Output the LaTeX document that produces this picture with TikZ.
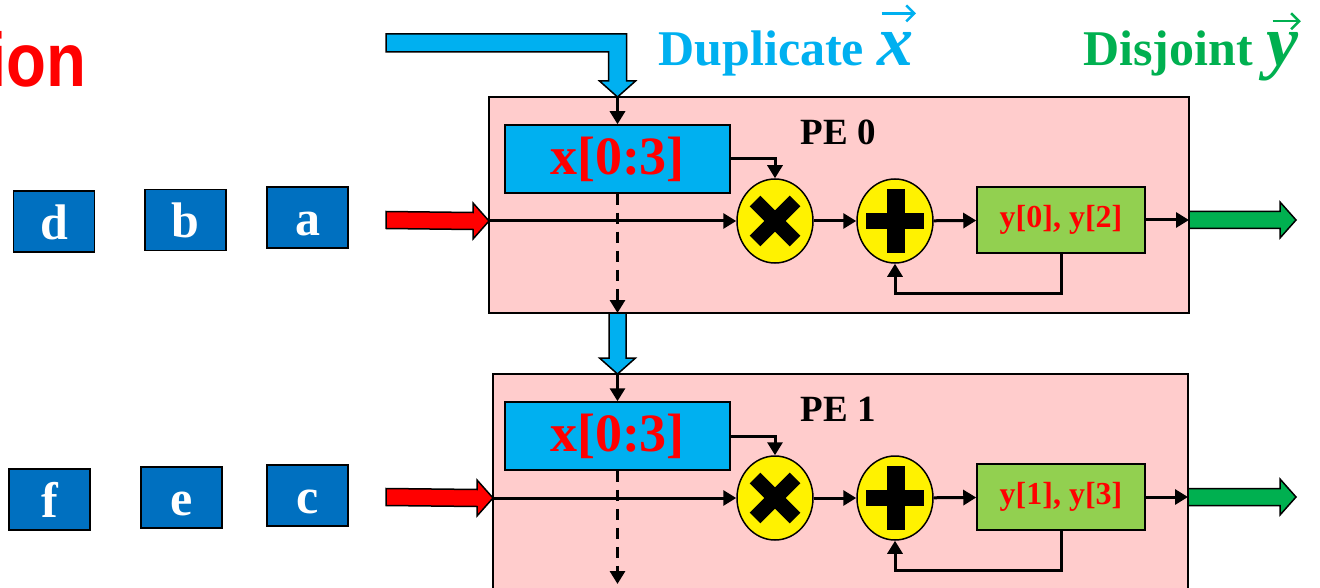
\documentclass[tikz,border=0pt]{standalone}
\usepackage{fontspec}
\setmainfont{Liberation Serif}
\newfontfamily\arialfont{Liberation Sans}
\usetikzlibrary{arrows.meta,calc,shapes.geometric}
\definecolor{tokblue}{RGB}{0,112,192}
\definecolor{xblue}{RGB}{0,176,240}
\definecolor{pepink}{RGB}{255,204,204}
\definecolor{ygreen}{RGB}{146,208,80}
\definecolor{outgreen}{RGB}{0,176,80}
\definecolor{hotred}{RGB}{255,0,0}
\tikzset{
  >={Triangle[length=13pt,width=15pt]},
  tok/.style={draw=black,fill=tokblue,line width=1.5pt,minimum width=81,minimum height=61,
    inner sep=0pt,text=white,text height=36pt,text depth=0pt,font=\fontsize{50}{50}\selectfont\bfseries},
  pe/.style={draw=black,fill=pepink,line width=1.5pt,inner sep=0pt,outer sep=0pt},
  pelabel/.style={font=\fontsize{37}{37}\selectfont\bfseries},
  xbuf/.style={draw=black,fill=xblue,line width=1.5pt,minimum width=225,minimum height=68,
    inner sep=0pt,text=hotred,font=\fontsize{54}{54}\selectfont\bfseries},
  ybuf/.style={draw=black,fill=ygreen,line width=1.5pt,minimum width=168,minimum height=66,
    inner sep=0pt,text=hotred,font=\fontsize{32}{32}\selectfont\bfseries},
  op/.style={ellipse,draw=black,fill=yellow,line width=1.5pt,minimum width=76,minimum height=84,inner sep=0pt},
  wire/.style={->,line width=3pt},
  fat/.style={draw=black,line width=1.5pt,fill=#1},
  title/.style={anchor=base west,font=\fontsize{50}{50}\selectfont\bfseries,text=#1},
  vecletter/.style={anchor=base west,inner sep=0pt,font=\fontsize{72}{72}\selectfont\bfseries\itshape,text=#1},
  vecarrow/.style={draw=#1,line width=2.5pt,-{Straight Barb[length=8pt,width=16pt]}},
}
% fat block arrows: colour, from, to
\newcommand\hfat[3]{\draw[fat=#1] ($(#2)+(0,-8.5)$) -- ($(#3)+(-16,-8.5)$) -- ($(#3)+(-16,-18)$)
  -- (#3) -- ($(#3)+(-16,18)$) -- ($(#3)+(-16,8.5)$) -- ($(#2)+(0,8.5)$) -- cycle;}
\newcommand\vfat[3]{\draw[fat=#1] ($(#2)+(-8.5,0)$) -- ($(#3)+(-8.5,-16)$) -- ($(#3)+(-18,-16)$)
  -- (#3) -- ($(#3)+(18,-16)$) -- ($(#3)+(8.5,-16)$) -- ($(#2)+(8.5,0)$) -- cycle;}

\begin{document}
\begin{tikzpicture}[x=1pt,y=-1pt]
  \useasboundingbox (0,0) rectangle (1320,588);
  \clip (0,0) rectangle (1320,588);

  \node[anchor=base east,inner sep=0pt,xscale=0.86,transform shape,text=hotred,
    font=\fontsize{76}{76}\selectfont\arialfont\bfseries] (head) at (87,87) {ion};

  % titles with vector letters
  \node[title=xblue] (dup) at (655,66) {Duplicate};
  \node[vecletter=xblue] (vx) at ($(dup.base east)+(10,0)$) {x};
  \draw[vecarrow=xblue] ($(vx.west)+(4,-36)$) -- ($(vx.east)+(2,-36)$);
  \node[title=outgreen] (dis) at (1080,66) {Disjoint};
  \node[vecletter=outgreen] (vy) at ($(dis.base east)+(10,0)$) {y};
  \draw[vecarrow=outgreen] ($(vy.west)+(6,-36)$) -- ($(vy.east)+(2,-36)$);

  % input tokens
  \foreach \t/\x/\y [count=\i] in {d/54/221.5, b/185.5/220, a/307.5/217.5,
    f/49.5/499.5, e/181.5/497.5, c/307.5/495.5}
    \node[tok] (tok\i) at (\x,\y) {\t};

  % processing elements
  \foreach \r/\px/\pw/\yo/\de/\ys in {0/489/700/0/0/{y[0], y[2]}, 1/493/695/277/-6/{y[1], y[3]}}
  {
    \node[pe,minimum width=\pw,minimum height=216,anchor=north west] (pe\r) at (\px,97+\yo) {};
    \node[pelabel] (lab\r) at (838,132+\yo) {PE \r};
    \node[xbuf] (xb\r) at (617.5,159+\yo) {x[0:3]};
    \node[op] (mul\r) at (775,221+\yo) {};
    \node[op] (add\r) at (895,221+\yo) {};
    \node[ybuf] (yb\r) at (1061,220+\yo) {\ys};
    \draw[line width=15pt] ($(mul\r)+(-20,-20)$) -- ($(mul\r)+(20,20)$)
      ($(mul\r)+(-20,20)$) -- ($(mul\r)+(20,-20)$);
    \draw[line width=16pt] ($(add\r)+(-29,0)$) -- ($(add\r)+(29,0)$);
    \draw[line width=18pt] ($(add\r)+(1,-32)$) -- ($(add\r)+(1,32)$);

    \coordinate (rin\r) at (386,220+\yo);
    \coordinate (rtip\r) at (pe\r.west |- mul\r);
    \coordinate (gout\r) at (pe\r.east |- yb\r);
    \coordinate (gtip\r) at (1296,220+\yo);
    \coordinate (dend\r) at ($(xb\r.south |- pe\r.south)+(0,\de)$);
    \hfat{hotred}{rin\r}{rtip\r}
    \hfat{outgreen}{gout\r}{gtip\r}

    \draw[wire] (rtip\r) -- (mul\r);
    \draw[wire] (mul\r) -- (add\r);
    \draw[wire] (add\r) -- (yb\r);
    \draw[wire] (yb\r) -- (gout\r);
    \draw[wire] (xb\r.east) -| (mul\r.north);
    \draw[wire] (yb\r.south) -- ++(0,40) -| (add\r.south);
    \draw[wire] (xb\r |- pe\r.north) -- (xb\r.north);
    \draw[wire,dash pattern=on 11pt off 8pt] (xb\r.south) -- (dend\r);
  }

  % x fed from above and passed down
  \coordinate (xtop) at (xb0 |- pe0.north);
  \draw[fat=xblue] (386,34) -| ($(xtop)+(9,-16)$) -- ($(xtop)+(18,-16)$) -- (xtop)
    -- ($(xtop)+(-18,-16)$) -- ($(xtop)+(-9,-16)$) |- (386,52) -- cycle;
  \coordinate (xdn) at (xb0 |- pe0.south);
  \coordinate (xin) at (xb1 |- pe1.north);
  \vfat{xblue}{xdn}{xin}
\end{tikzpicture}
\end{document}
